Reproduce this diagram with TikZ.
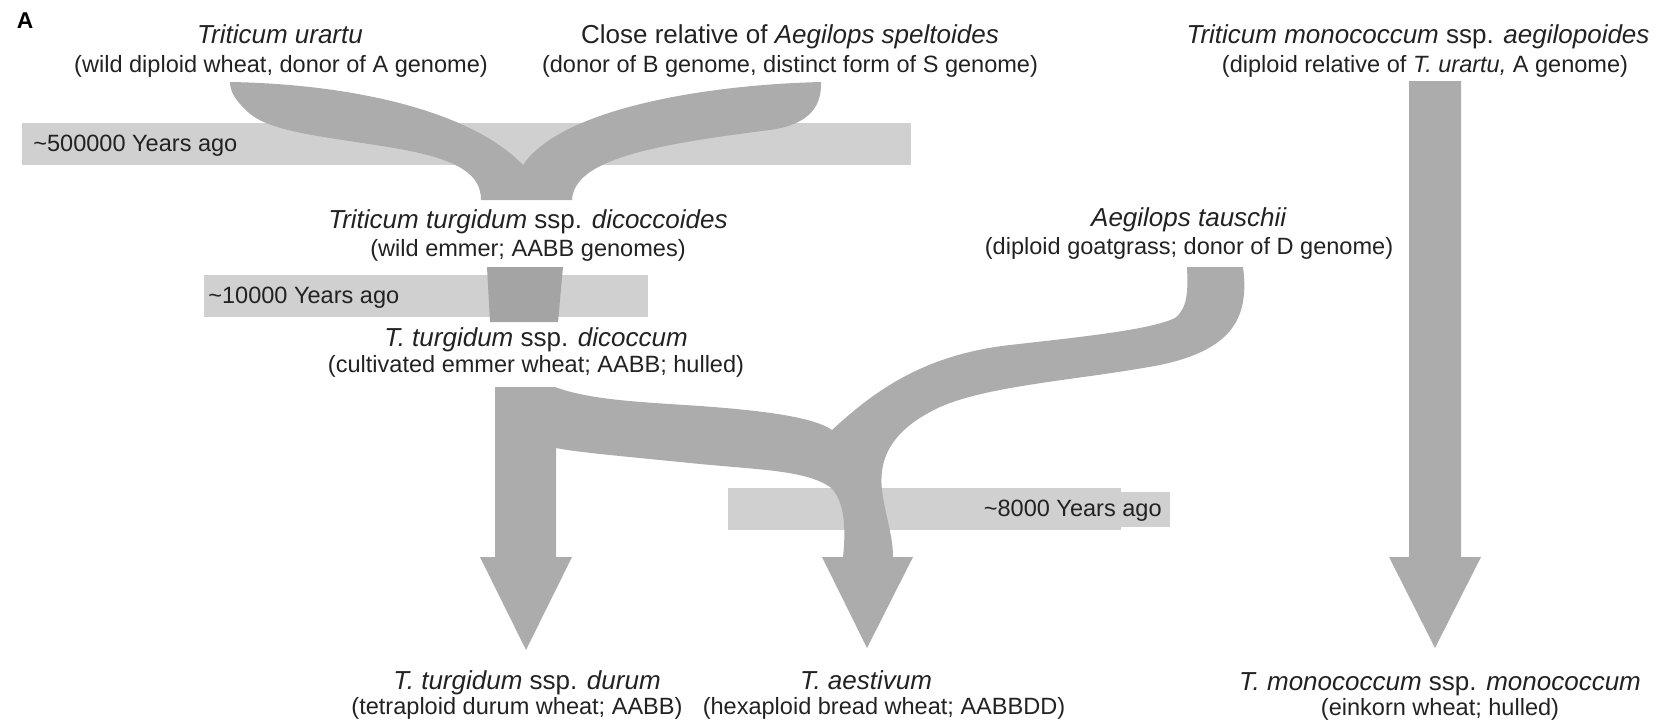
\documentclass[tikz,border=0pt]{standalone}
\usepackage{fontspec}
\setmainfont{Liberation Sans}
\usetikzlibrary{positioning}
\definecolor{bargray}{HTML}{D0D0D0}
\definecolor{flowgray}{HTML}{ACACAC}
\definecolor{crossgray}{HTML}{A4A4A4}
\definecolor{txtgray}{HTML}{222222}
\newcommand{\spname}{\fontsize{14.8}{16}\selectfont}
\newcommand{\spdesc}{\fontsize{13.4}{15}\selectfont}

\begin{document}
\begin{tikzpicture}[x=0.02cm, y=-0.02cm,
		bar/.style={fill=bargray},
		flow/.style={fill=flowgray},
		taxon/.style={anchor=base, inner sep=0pt, font=\spname, text=txtgray},
		desc/.style={anchor=base, inner sep=0pt, font=\spdesc, text=txtgray},
		era/.style={inner sep=0pt, font=\spdesc, text=txtgray}
		]
		\useasboundingbox (0,0) rectangle (1665,724);
		
		% time bars
		\fill[bar] (22,123) rectangle (911,165);
		\fill[bar] (204,275) rectangle (648,317);
		\fill[bar] (728,488) rectangle (1121,530);
		\fill[bar] (1121,492) rectangle (1170,527);
		
		% A + B genomes
		\fill[flow] (481,200) .. controls (481,175) and (460,160) .. (400,149)
			.. controls (330,137) and (270,133) .. (248,112)
			.. controls (236,101) and (230,92) .. (230,82)
			.. controls (350,84) and (470,110) .. (523,165)
			.. controls (560,110) and (700,85) .. (821,82)
			.. controls (822,110) and (805,125) .. (770,130)
			.. controls (650,145) and (574,160) .. (572,200) -- cycle;
		\fill[crossgray] (487,267) -- (563,267) -- (558,322) -- (490,322) -- cycle;
		
		% durum and bread wheat
		\fill[flow] (495,387) -- (555,387)
			.. controls (590,400) and (640,402) .. (700,406)
			.. controls (770,411) and (815,418) .. (832,430)
			.. controls (870,395) and (920,355) .. (1010,345)
			.. controls (1080,337) and (1150,330) .. (1175,318)
			.. controls (1188,308) and (1188,290) .. (1187,267)
			-- (1243,267)
			.. controls (1250,320) and (1230,350) .. (1160,365)
			.. controls (1080,380) and (990,385) .. (940,407)
			.. controls (895,428) and (878,455) .. (882,490)
			.. controls (885,515) and (893,535) .. (893,557)
			-- (913,557) -- (867,648) -- (822,557) -- (843,557)
			.. controls (846,530) and (845,500) .. (830,487)
			.. controls (805,470) and (760,470) .. (690,463)
			.. controls (620,456) and (575,452) .. (556,448)
			-- (556,557) -- (572,557) -- (526,650) -- (480,557) -- (495,557) -- cycle;
		
		% einkorn
		\fill[flow] (1409,81) -- (1461,81) -- (1461,557) -- (1481,557) -- (1435,648)
			-- (1389,557) -- (1409,557) -- cycle;
		
		\node[era, anchor=base west] (t1) at (33,151) {\textasciitilde500000 Years ago};
		\node[era, anchor=base west] (t2) at (208,303) {\textasciitilde10000 Years ago};
		\node[era, anchor=base east] (t3) at (1162,516) {\textasciitilde8000 Years ago};
		
		\node[anchor=base, inner sep=0pt, font=\fontsize{13}{15}\selectfont\bfseries] (panel) at (25,28) {A};
		
		\node[taxon] (ura) at (280,43) {\textit{Triticum urartu}};
		\node[desc] (ura-d) at (281,72) {(wild diploid wheat, donor of A genome)};
		\node[taxon] (spe) at (790,43) {Close relative of \textit{Aegilops speltoides}};
		\node[desc] (spe-d) at (790,72) {(donor of B genome, distinct form of S genome)};
		\node[taxon] (aeg) at (1418,43) {\textit{Triticum monococcum} ssp. \textit{aegilopoides}};
		\node[desc] (aeg-d) at (1425,72) {(diploid relative of \textit{T. urartu,} A genome)};
		
		\node[taxon] (dcs) at (528,228) {\textit{Triticum turgidum} ssp. \textit{dicoccoides}};
		\node[desc] (dcs-d) at (528,256) {(wild emmer; AABB genomes)};
		\node[taxon] (tau) at (1189,226) {\textit{Aegilops tauschii}};
		\node[desc] (tau-d) at (1189,254) {(diploid goatgrass; donor of D genome)};
		\node[taxon] (dcm) at (536,346) {\textit{T. turgidum} ssp. \textit{dicoccum}};
		\node[desc] (dcm-d) at (536,372) {(cultivated emmer wheat; AABB; hulled)};
		
		\node[taxon] (dur) at (527,689) {\textit{T. turgidum} ssp. \textit{durum}};
		\node[desc] (dur-d) at (517,714) {(tetraploid durum wheat; AABB)};
		\node[taxon] (aes) at (866,689) {\textit{T. aestivum}};
		\node[desc] (aes-d) at (884,714) {(hexaploid bread wheat; AABBDD)};
		\node[taxon] (mon) at (1440,690) {\textit{T. monococcum} ssp. \textit{monococcum}};
		\node[desc] (mon-d) at (1440,715) {(einkorn wheat; hulled)};
		
\end{tikzpicture}
\end{document}
